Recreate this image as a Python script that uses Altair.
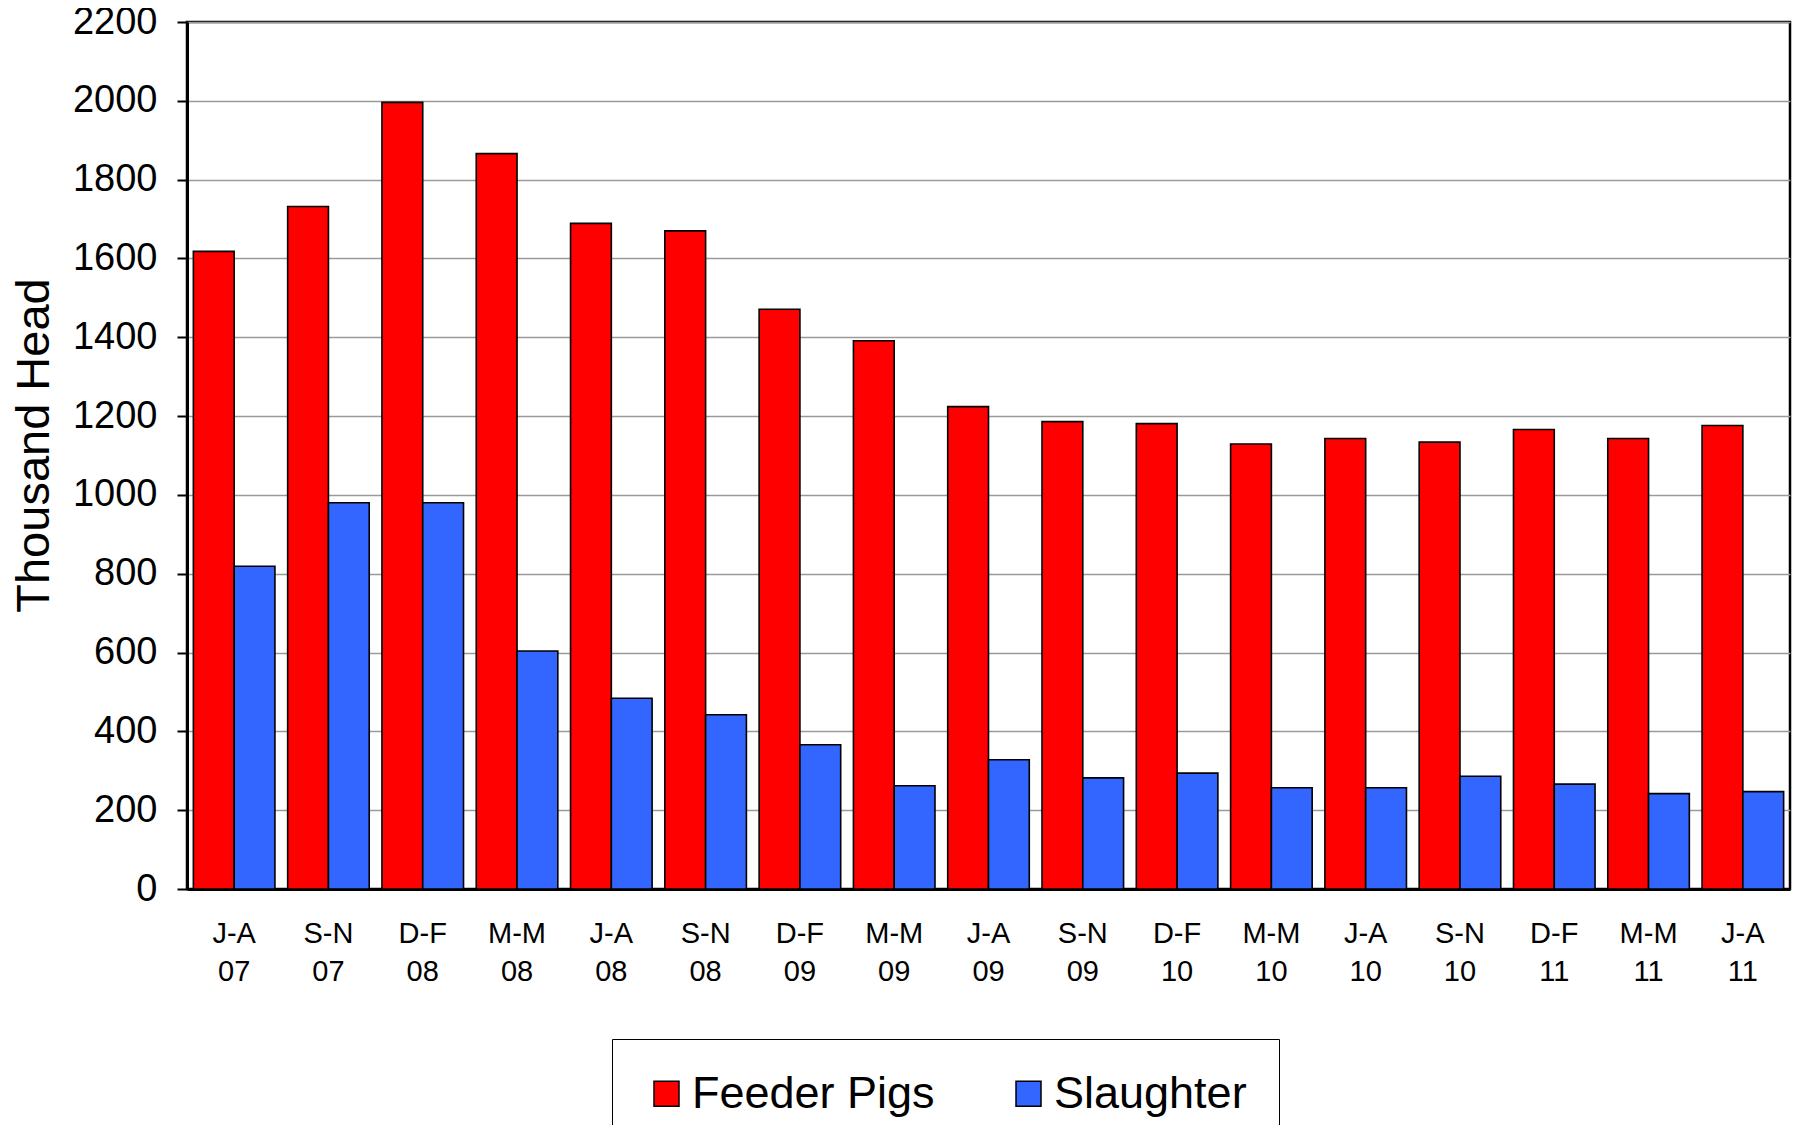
import altair as alt
import pandas as pd

categories = ["J-A 07", "S-N 07", "D-F 08", "M-M 08", "J-A 08", "S-N 08", "D-F 09",
              "M-M 09", "J-A 09", "S-N 09", "D-F 10", "M-M 10", "J-A 10", "S-N 10",
              "D-F 11", "M-M 11", "J-A 11"]
series_names = ["Feeder Pigs", "Slaughter"]
feeder = [1618, 1732, 1996, 1866, 1689, 1670, 1471, 1391, 1224, 1186, 1181, 1129,
          1143, 1134, 1166, 1143, 1176]
slaughter = [819, 980, 980, 604, 484, 442, 366, 262, 328, 282, 294, 257, 257, 286,
             266, 242, 247]
y_ticks = list(range(0, 2201, 200))
colors = ["#FF0000", "#3366FF"]

rows = []
for c, f, s in zip(categories, feeder, slaughter):
    rows.append({"cat": c, "series": series_names[0], "value": f})
    rows.append({"cat": c, "series": series_names[1], "value": s})
df = pd.DataFrame(rows)

FONT = "Liberation Sans"

chart = alt.Chart(df).mark_bar(stroke="black", strokeWidth=1.6).encode(
    x=alt.X("cat:N", sort=categories,
            scale=alt.Scale(paddingInner=0.135, paddingOuter=0.0675),
            axis=alt.Axis(title=None, labelAngle=0, ticks=False,
                          labelExpr="split(datum.label, ' ')",
                          labelFont=FONT, labelFontSize=29, labelColor="black",
                          labelLineHeight=38, labelPadding=30,
                          domainColor="black", domainWidth=3)),
    xOffset=alt.XOffset("series:N", sort=series_names),
    y=alt.Y("value:Q",
            scale=alt.Scale(domain=[0, 2200], nice=False),
            axis=alt.Axis(values=y_ticks, title="Thousand Head", format="d",
                          titleFont=FONT, titleFontSize=47, titleFontWeight="normal",
                          titleColor="black", titleAngle=270,
                          titleX=-153, titleY=423, titleAlign="center",
                          titleBaseline="middle",
                          labelFont=FONT, labelFontSize=38, labelColor="black",
                          labelPadding=20, tickSize=10, tickColor="black",
                          tickWidth=2, domainColor="black", domainWidth=3,
                          grid=True, gridColor="#9a9a9a", gridWidth=1.6)),
    color=alt.Color("series:N", sort=series_names,
                    scale=alt.Scale(domain=series_names, range=colors),
                    legend=alt.Legend(title=None, orient="none", direction="horizontal",
                                      legendX=425, legendY=1017,
                                      symbolType="square", symbolSize=625,
                                      symbolStrokeColor="black", symbolStrokeWidth=1.5,
                                      symbolOpacity=1, symbolOffset=0,
                                      labelFont=FONT, labelFontSize=45,
                                      labelColor="black", labelOffset=3,
                                      labelLimit=0,
                                      columnPadding=71, padding=32,
                                      strokeColor="black", fillColor="white")),
).properties(
    width=1603,
    height=867,
    autosize=alt.AutoSizeParams(type="none"),
    padding={"left": 179, "top": 14, "right": 4, "bottom": 236},
).configure_view(
    stroke="black", strokeWidth=2.5
)

chart.save("out.html", embed_options={"renderer": "svg", "actions": False})
